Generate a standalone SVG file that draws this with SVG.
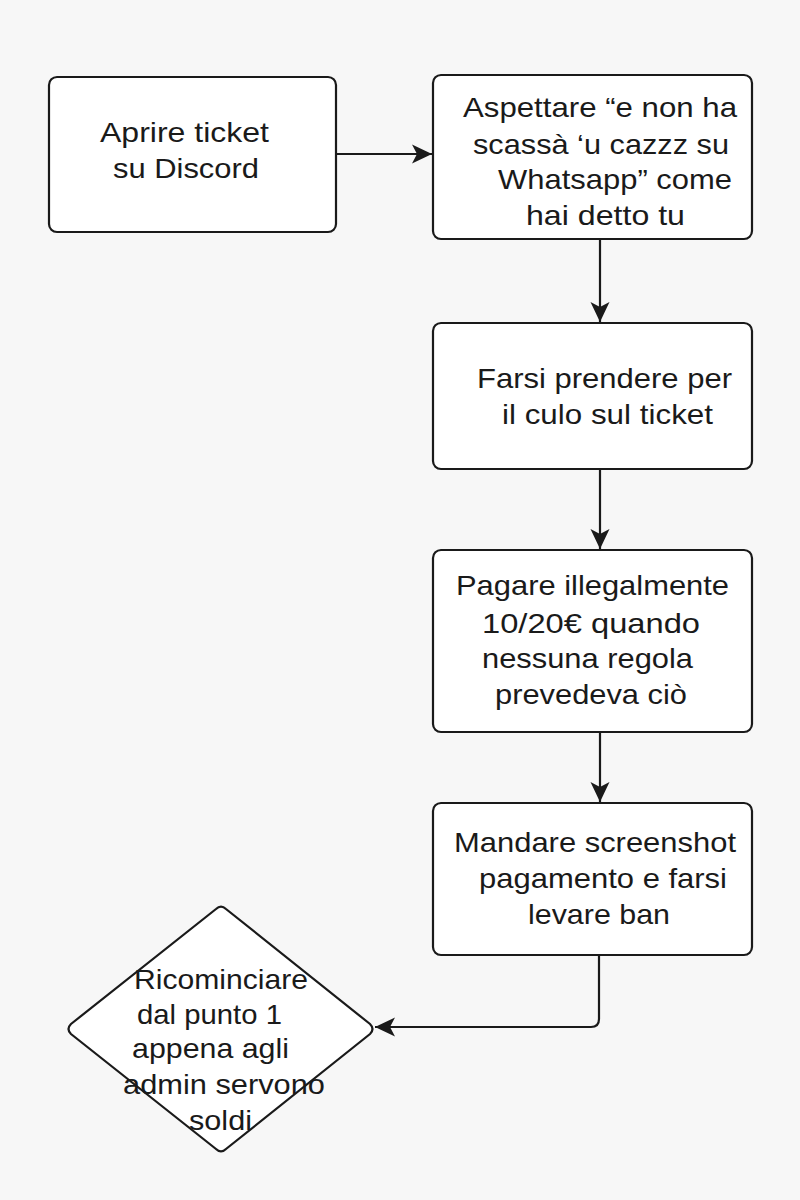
<svg xmlns="http://www.w3.org/2000/svg" width="800" height="1200" viewBox="0 0 800 1200">
<defs>
<style>
.box{fill:#ffffff;stroke:#1a1a1a;stroke-width:2.2}
.lbl{font-family:"Liberation Sans",Arial,sans-serif;font-size:28px;fill:#1a1a1a}
.con{fill:none;stroke:#1a1a1a;stroke-width:2.2}
</style>
<marker id="arr" viewBox="0 0 20 20" refX="20" refY="10" markerWidth="20" markerHeight="20" markerUnits="userSpaceOnUse" orient="auto">
<path d="M0,0.5 L20,10 L0,19.5 L5,10 Z" fill="#1a1a1a"/>
</marker>
</defs>
<rect x="0" y="0" width="800" height="1200" fill="#f7f7f7"/>
<g id="connectors">
<line class="con" x1="336" y1="154" x2="432" y2="154" marker-end="url(#arr)"/>
<line class="con" x1="600" y1="239" x2="600" y2="322" marker-end="url(#arr)"/>
<line class="con" x1="600" y1="469" x2="600" y2="549" marker-end="url(#arr)"/>
<line class="con" x1="600" y1="732" x2="600" y2="802" marker-end="url(#arr)"/>
<path class="con" d="M599,955 L599,1019 Q599,1027 591,1027 L375,1027" marker-end="url(#arr)"/>
</g>
<g id="node1">
<rect class="box" x="49" y="77" width="287" height="155" rx="8"/>
<text class="lbl" x="100" y="142" textLength="169" lengthAdjust="spacingAndGlyphs">Aprire ticket</text>
<text class="lbl" x="113" y="178" textLength="146" lengthAdjust="spacingAndGlyphs">su Discord</text>
</g>
<g id="node2">
<rect class="box" x="433" y="75" width="319" height="164" rx="8"/>
<text class="lbl" x="463" y="117" textLength="274" lengthAdjust="spacingAndGlyphs">Aspettare “e non ha</text>
<text class="lbl" x="473" y="154" textLength="256" lengthAdjust="spacingAndGlyphs">scassà ‘u cazzz su</text>
<text class="lbl" x="498" y="189" textLength="234" lengthAdjust="spacingAndGlyphs">Whatsapp” come</text>
<text class="lbl" x="526" y="225" textLength="159" lengthAdjust="spacingAndGlyphs">hai detto tu</text>
</g>
<g id="node3">
<rect class="box" x="433" y="323" width="319" height="146" rx="8"/>
<text class="lbl" x="477" y="388" textLength="255" lengthAdjust="spacingAndGlyphs">Farsi prendere per</text>
<text class="lbl" x="502" y="424" textLength="211" lengthAdjust="spacingAndGlyphs">il culo sul ticket</text>
</g>
<g id="node4">
<rect class="box" x="433" y="550" width="319" height="182" rx="8"/>
<text class="lbl" x="456" y="595" textLength="273" lengthAdjust="spacingAndGlyphs">Pagare illegalmente</text>
<text class="lbl" x="482" y="633" textLength="218" lengthAdjust="spacingAndGlyphs">10/20€ quando</text>
<text class="lbl" x="482" y="668" textLength="211" lengthAdjust="spacingAndGlyphs">nessuna regola</text>
<text class="lbl" x="495" y="704" textLength="192" lengthAdjust="spacingAndGlyphs">prevedeva ciò</text>
</g>
<g id="node5">
<rect class="box" x="433" y="803" width="319" height="152" rx="8"/>
<text class="lbl" x="454" y="852" textLength="282" lengthAdjust="spacingAndGlyphs">Mandare screenshot</text>
<text class="lbl" x="479" y="888" textLength="248" lengthAdjust="spacingAndGlyphs">pagamento e farsi</text>
<text class="lbl" x="528" y="924" textLength="142" lengthAdjust="spacingAndGlyphs">levare ban</text>
</g>
<g id="node6">
<path class="box" d="M216,909 Q221,904 226,909 L370,1024 Q375,1029 370,1034 L226,1149 Q221,1154 216,1149 L71,1034 Q66,1029 71,1024 Z"/>
<text class="lbl" x="134" y="989" textLength="174" lengthAdjust="spacingAndGlyphs">Ricominciare</text>
<text class="lbl" x="137" y="1024" textLength="145" lengthAdjust="spacingAndGlyphs">dal punto 1</text>
<text class="lbl" x="132" y="1058" textLength="157" lengthAdjust="spacingAndGlyphs">appena agli</text>
<text class="lbl" x="123" y="1094" textLength="202" lengthAdjust="spacingAndGlyphs">admin servono</text>
<text class="lbl" x="189" y="1130" textLength="63" lengthAdjust="spacingAndGlyphs">soldi</text>
</g>
</svg>
